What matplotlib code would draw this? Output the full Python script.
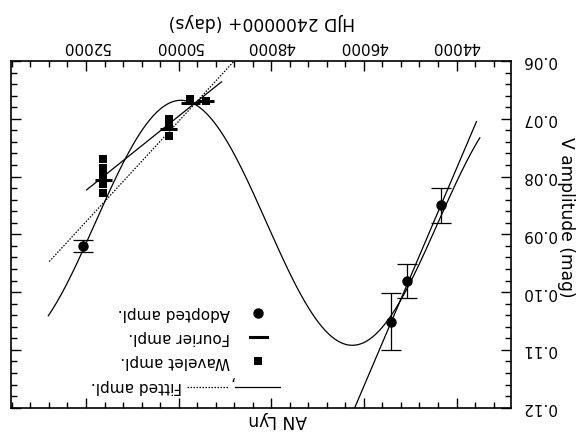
import numpy as np
import matplotlib
matplotlib.use("Agg")
import matplotlib.pyplot as plt
from matplotlib.ticker import MultipleLocator, FixedLocator

# ---------------- data ----------------
adopted_hjd = [52060, 45417, 45066, 44328]
adopted_amp = [0.0920, 0.1051, 0.0981, 0.0850]
adopted_err = [0.0010, 0.0050, 0.0030, 0.0030]

wavelet_hjd = [51629, 51629, 51629, 51629, 51629,
               50200, 50200, 50200, 49758, 49413]
wavelet_amp = [0.0770, 0.0786, 0.0799, 0.0813, 0.0828,
               0.0700, 0.0714, 0.0730, 0.0665, 0.0670]

fourier_hjd = [51629, 50226, 49741, 49413]
fourier_amp = [0.0806, 0.0718, 0.0673, 0.0669]
fourier_span = [180, 180, 198, 180]

# fitted sine to adopted amplitudes
sine_mean, sine_amp, sine_period, sine_peak = 0.088, 0.0212, 7400.0, 49950.0
sine_range = (43497, 52815)
# linear fits: (y at x0, slope per day, x0, x range)
lin_adopted = (0.0786, 1.884e-5, 44000, (43569, 46400))
lin_fourier = (0.0636, 6.42e-6, 49074, (49074, 51987))
lin_wavelet = (0.0600, 8.69e-6, 48800, (48600, 52815))

xticks = [44000, 46000, 48000, 50000, 52000]
xtick_labels = ["44000", "46000", "48000", "50000", "52000"]
yticks = [0.06, 0.07, 0.08, 0.09, 0.10, 0.11, 0.12]
ytick_labels = ["0.06", "0.07", "0.08", "0.09", "0.10", "0.11", "0.12"]

# ---------------- figure ----------------
W, H = 577, 434
plt.rcParams['font.family'] = ['DejaVu Sans']
fig = plt.figure(figsize=(W / 100, H / 100), dpi=100)
L, R, T, B = 11, 510.7, 61, 407.7
ax = fig.add_axes([L / W, 1 - B / H, (R - L) / W, (B - T) / H])

ax.set_xlim(53620, 42830)
ax.set_ylim(0.12, 0.06)

lw = 0.9
# sine fit
xs = np.linspace(sine_range[0], sine_range[1], 400)
ax.plot(xs, sine_mean - sine_amp * np.cos(2 * np.pi * (xs - sine_peak) / sine_period),
        color='black', lw=lw)
# linear fits
for (y0, k, x0, rng), ls in [(lin_adopted, '-'), (lin_fourier, '-'), (lin_wavelet, (0, (1.2, 1.2)))]:
    xl = np.array(rng, dtype=float)
    ax.plot(xl, y0 + k * (xl - x0), color='black', lw=lw, linestyle=ls)

# wavelet squares
ax.plot(wavelet_hjd, wavelet_amp, linestyle='none', marker='s', ms=6, color='black',
        markeredgewidth=0)
# fourier bars
ax.errorbar(fourier_hjd, fourier_amp, xerr=fourier_span, fmt='none', ecolor='black',
            elinewidth=2.2, capsize=0)
# adopted
ax.errorbar(adopted_hjd, adopted_amp, yerr=adopted_err, fmt='o', color='black', ms=6.5,
            elinewidth=lw, capsize=7, capthick=lw)

# axes styling
ax.xaxis.set_major_locator(FixedLocator(xticks))
ax.xaxis.set_minor_locator(MultipleLocator(400))
ax.yaxis.set_major_locator(FixedLocator(yticks))
ax.yaxis.set_minor_locator(MultipleLocator(0.002))
ax.set_xticklabels(xtick_labels, rotation=180, fontsize=11)
ax.set_yticklabels(ytick_labels, rotation=180, fontsize=11, va='center')
ax.tick_params(which='both', direction='in', top=True, bottom=True, left=True, right=True,
               labeltop=True, labelbottom=False, labelright=True, labelleft=False, width=1.0)
ax.tick_params(which='major', length=7, pad=5)
ax.tick_params(axis='y', which='major', pad=8)
ax.tick_params(which='minor', length=4)
for s in ax.spines.values():
    s.set_linewidth(1.2)

# labels (whole chart is upside down)
fig.text(262 / W, 1 - 22 / H, "HJD 2400000+ (days)", rotation=180, ha='center', va='center', fontsize=12.3)
fig.text(566 / W, 1 - 217 / H, "V amplitude (mag)", rotation=270, ha='center', va='center', fontsize=12.3)
fig.text(278 / W, 1 - 420 / H, "AN Lyn", rotation=180, ha='center', va='center', fontsize=12.3)

# manual legend in pixel coords
def P(px, py):
    return ((px - L) / (R - L), 1 - (py - T) / (B - T))

tr = ax.transAxes
x, y = P(258.3, 313.3)
ax.plot([x], [y], marker='o', ms=6.5, color='black', transform=tr, clip_on=False)
x1, y1 = P(250, 337.3); x2, _ = P(266.7, 337.3)
ax.plot([x1, x2], [y1, y1], color='black', lw=2.2, transform=tr)
x, y = P(258.3, 361)
ax.plot([x], [y], marker='s', ms=6, color='black', markeredgewidth=0, transform=tr)
x1, y1 = P(235, 386.7); x2, _ = P(280, 386.7)
ax.plot([x1, x2], [y1, y1], color='black', lw=lw, transform=tr)
x1, _ = P(187, 386.7); x2, _ = P(228.3, 386.7)
ax.plot([x1, x2], [y1, y1], color='black', lw=lw, linestyle=(0, (1.2, 1.2)), transform=tr)
x, y = P(231.5, 383)
ax.text(x, y, ",", rotation=180, ha='center', va='center', fontsize=11, transform=tr)

for label, py, pxr in [("Adopted ampl.", 313.3, 230), ("Fourier ampl.", 337.3, 230),
                       ("Wavelet ampl.", 361, 230), ("Fitted ampl.", 386.7, 182)]:
    x, y = P(pxr, py)
    ax.text(x, y, label, rotation=180, ha='right', va='center', fontsize=11, transform=tr)

fig.savefig("out.png", dpi=100)
